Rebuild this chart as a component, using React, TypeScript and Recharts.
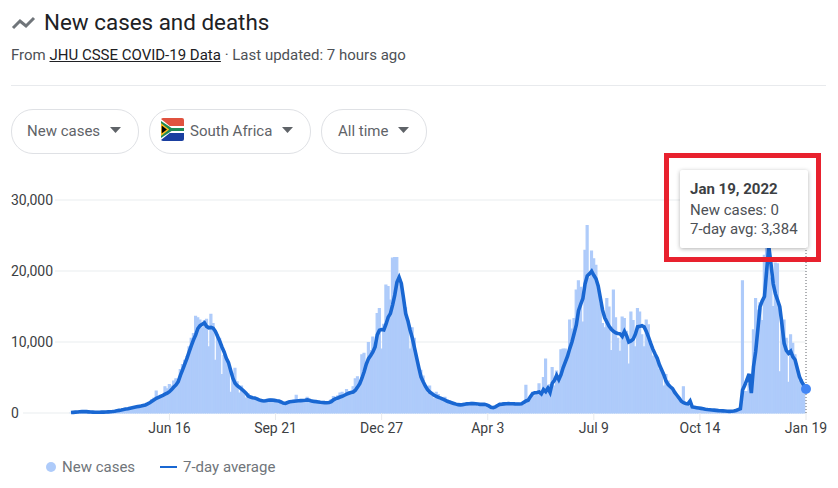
import { Bar, CartesianGrid, ComposedChart, Line, ReferenceDot, ReferenceLine, XAxis, YAxis } from "recharts"

// one reading every 2 days, starting Mar 18 2020
const newCases = [
  50, 70, 100, 130, 150, 180, 200, 170, 140, 120,
  110, 100, 100, 110, 110, 130, 130, 150, 170, 200,
  250, 300, 350, 400, 450, 520, 600, 650, 720, 800,
  900, 950, 1000, 1100, 1200, 1300, 1500, 1900, 2100, 3100,
  2300, 2500, 2600, 3700, 3400, 4000, 3800, 4500, 4800, 4700,
  6100, 6800, 7400, 7900, 9300, 10500, 11200, 13600, 13400, 13100,
  12000, 13000, 13200, 9300, 13900, 12600, 7400, 11000, 10500, 5400,
  8100, 7800, 6900, 2900, 5600, 6300, 4400, 2800, 3800, 3000,
  2100, 2700, 2300, 2200, 1900, 2100, 1700, 1500, 1400, 1900,
  1500, 2000, 1700, 1600, 1900, 1500, 1400, 1300, 1200, 1500,
  1700, 1500, 1800, 2500, 1700, 1600, 1900, 1700, 2200, 1700,
  1500, 1800, 1300, 1700, 1400, 1500, 1300, 1500, 1300, 1900,
  2300, 1900, 2400, 2800, 2900, 2600, 3300, 3000, 2700, 3700,
  4800, 5100, 4500, 8200, 8400, 7000, 9900, 8800, 10700, 9900,
  14000, 14700, 9000, 12500, 18000, 17800, 15900, 21800, 21900, 21900,
  18200, 18000, 16000, 14800, 13000, 9000, 12000, 10500, 7500, 6000,
  6000, 5200, 3700, 2800, 3800, 2900, 2000, 2900, 2600, 2000,
  1600, 2200, 1800, 1700, 1400, 1100, 1300, 1200, 1000, 1300,
  1200, 1400, 1100, 1500, 1300, 1200, 900, 1300, 1300, 1100,
  1200, 800, 700, 600, 900, 1100, 1200, 1300, 1200, 1400,
  1200, 1300, 1200, 1100, 1400, 1100, 1300, 1200, 3900, 1800,
  2200, 2900, 2400, 3000, 4100, 2400, 5000, 7600, 3000, 4000,
  6400, 3800, 5900, 4300, 8900, 9000, 9000, 8000, 13100, 11800,
  13300, 17300, 18600, 17700, 12800, 22900, 26400, 19000, 22800, 21700,
  20800, 17200, 15300, 12600, 12000, 16100, 14900, 8800, 17300, 13400,
  10500, 8700, 13500, 13300, 11500, 6900, 14200, 13000, 9300, 14700,
  14200, 11000, 9300, 13100, 12400, 10000, 8000, 7900, 7300, 6100,
  5800, 3800, 5400, 4500, 3700, 3200, 2900, 2400, 2000, 1700,
  3700, 1300, 1100, 1000, 900, 700, 650, 600, 550, 500,
  500, 450, 400, 400, 350, 350, 300, 300, 280, 250,
  220, 220, 230, 260, 330, 450, 600, 18600, 3000, 3000,
  4000, 3900, 11700, 16100, 14500, 15500, 13000, 22200, 27000, 26500,
  19000, 15000, 21100, 21000, 5800, 13000, 13100, 10500, 4300, 11000,
  9800, 8200, 6000, 4500, 4700, 4000, 0,
]

const sevenDayAvg = [
  60, 90, 120, 150, 170, 190, 200, 190, 160, 130,
  120, 110, 110, 110, 120, 130, 140, 160, 180, 210,
  260, 320, 370, 420, 480, 550, 610, 680, 750, 820,
  890, 930, 980, 1060, 1130, 1280, 1450, 1650, 1850, 2070,
  2210, 2350, 2490, 2650, 2800, 3000, 3300, 3650, 3950, 4400,
  5300, 6060, 6900, 7700, 8600, 9500, 10300, 11000, 11900, 12300,
  12500, 12700, 12200, 12000, 12050, 11950, 11500, 10800, 10100, 9300,
  8600, 7700, 7100, 6000, 4900, 4200, 3850, 3600, 3350, 3100,
  2800, 2400, 2250, 2150, 2100, 2000, 1850, 1750, 1700, 1720,
  1800, 1830, 1820, 1780, 1720, 1680, 1550, 1400, 1350, 1480,
  1580, 1620, 1660, 1700, 1720, 1740, 1760, 1800, 1850, 1800,
  1680, 1630, 1600, 1560, 1520, 1490, 1460, 1440, 1480, 1600,
  1850, 2020, 2120, 2250, 2350, 2500, 2650, 2780, 2880, 2960,
  3200, 3650, 4140, 4900, 5800, 6900, 7660, 8100, 8600, 9300,
  11000, 11650, 11750, 11700, 12500, 13500, 14000, 15200, 16600, 18400,
  19100, 18240, 16200, 14000, 13000, 11700, 10600, 9200, 7800, 6400,
  5080, 4400, 3800, 3300, 2950, 2730, 2500, 2350, 2200, 2100,
  1950, 1800, 1650, 1550, 1450, 1350, 1250, 1175, 1150, 1180,
  1240, 1290, 1310, 1320, 1320, 1300, 1260, 1220, 1220, 1230,
  1150, 1000, 800, 750, 870, 1050, 1220, 1250, 1290, 1300,
  1320, 1310, 1300, 1280, 1270, 1270, 1300, 1500, 1690, 1800,
  2300, 2730, 2850, 2900, 2960, 2700, 3300, 3000, 3500, 2900,
  4200, 4600, 5300, 4700, 5400, 6400, 7190, 8000, 9070, 10000,
  11200, 12400, 14400, 15300, 16120, 18200, 19300, 19600, 19970, 19400,
  18900, 17900, 16200, 14480, 13400, 12800, 12200, 11800, 11500, 11300,
  11200, 11150, 10800, 11500, 10900, 10000, 10150, 10400, 11100, 12130,
  12200, 12300, 12130, 11500, 10700, 9800, 9000, 8300, 7700, 6800,
  6100, 5400, 4500, 4000, 3700, 3430, 2900, 2500, 2100, 1650,
  1450, 1350, 1300, 1700, 850, 800, 750, 700, 650, 600,
  540, 490, 460, 430, 400, 370, 340, 320, 300, 280,
  250, 235, 240, 280, 350, 480, 600, 3240, 3900, 4700,
  5500, 2800, 6500, 8700, 11800, 14990, 15800, 16400, 20000, 23450,
  21000, 18200, 16800, 15900, 14990, 12500, 9820, 8800, 8400, 8700,
  7900, 7500, 6300, 5120, 4400, 3900, 3384,
]

const tickDays = [90, 187, 284, 381, 478, 575, 672]
const tickLabels = ["Jun 16", "Sep 21", "Dec 27", "Apr 3", "Jul 9", "Oct 14", "Jan 19"]
const yTicks = [0, 10000, 20000, 30000]

const chartData = newCases.map((v, i) => ({ day: i * 2, cases: v, avg: sevenDayAvg[i] }))

const FONT = "Roboto, sans-serif"

function YTick({ y, payload }: { y?: number; payload?: { value: number } }) {
  const v = payload?.value ?? 0
  return (
    <g>
      {/* the rest of the gridline comes from CartesianGrid, behind the bars */}
      <line x1={v === 0 ? 23 : 55} x2={71} y1={y} y2={y} stroke="#f1f3f4" strokeWidth={1.5} />
      <text x={11} y={(y ?? 0) + 5} fontSize={14} fontFamily={FONT} fill="#3c4043">
        {v.toLocaleString("en-US")}
      </text>
    </g>
  )
}

function HoverLine({ x1, y1, y2 }: { x1?: number; y1?: number; y2?: number }) {
  return <line x1={x1} x2={x1} y1={y1} y2={(y2 ?? 0) + 34} stroke="#5f6368" strokeWidth={1} strokeDasharray="1 2" />
}

function Pill({ left, width, textLeft, arrowLeft, label }: { left: number; width: number; textLeft: number; arrowLeft: number; label: string }) {
  return (
    <>
      <div style={{ position: "absolute", left, top: 109, width: width - 2, height: 43, border: "1px solid #dfe1e5", borderRadius: 22 }} />
      <div style={{ position: "absolute", left: textLeft, top: 122, fontSize: 15, lineHeight: "18px", color: "#5f6368", whiteSpace: "nowrap" }}>{label}</div>
      <svg style={{ position: "absolute", left: arrowLeft, top: 127 }} width={11} height={6}>
        <path d="M0 0 L11 0 L5.5 6 Z" fill="#5f6368" />
      </svg>
    </>
  )
}

export default function App() {
  return (
    <div style={{ position: "absolute", left: 0, top: 0, width: 838, height: 488, background: "#fff", fontFamily: FONT, overflow: "hidden" }}>
      <svg style={{ position: "absolute", left: 10, top: 15 }} width={28} height={18}>
        <path d="M3 13 L10 6 L16 11 L24 3" fill="none" stroke="#70757a" strokeWidth={3} />
      </svg>
      <div style={{ position: "absolute", left: 44, top: 8, fontSize: 22.4, lineHeight: "28px", color: "#202124", whiteSpace: "nowrap" }}>New cases and deaths</div>
      <div style={{ position: "absolute", left: 11, top: 46, fontSize: 15, lineHeight: "18px", color: "#4d5156", whiteSpace: "nowrap" }}>
        From <span style={{ color: "#202124", textDecoration: "underline" }}>JHU CSSE COVID-19 Data</span> · Last updated: 7 hours ago
      </div>
      <div style={{ position: "absolute", left: 11, top: 85, width: 815, height: 1, background: "#e8eaed" }} />

      <Pill left={11} width={128} textLeft={27} arrowLeft={110} label="New cases" />
      <Pill left={149} width={162} textLeft={190} arrowLeft={282} label="South Africa" />
      <Pill left={321} width={106} textLeft={338} arrowLeft={398} label="All time" />
      <svg style={{ position: "absolute", left: 161, top: 118, borderRadius: 2 }} width={23} height={23} viewBox="0 0 23 23">
        <rect width={23} height={8} fill="#e0523f" />
        <rect y={15} width={23} height={8} fill="#1a3fa0" />
        <rect y={8} width={23} height={7} fill="#fff" />
        <path d="M0 1 L10 9 L23 9 L23 14 L10 14 L0 22 Z" fill="#fff" />
        <path d="M0 3 L10.6 10 L23 10 L23 13 L10.6 13 L0 20 Z" fill="#1f8a55" />
        <path d="M0 6 L7 11.5 L0 17 Z" fill="#000" stroke="#ffb81c" strokeWidth={1.5} />
      </svg>

      <ComposedChart
        width={838}
        height={488}
        data={chartData}
        margin={{ top: 200, right: 32, bottom: 45, left: 11 }}
        style={{ position: "absolute", left: 0, top: 0 }}
      >
        <CartesianGrid vertical={false} horizontalValues={yTicks} stroke="#f1f3f4" strokeWidth={1.5} />
        <YAxis
          type="number"
          domain={[0, 30000]}
          ticks={yTicks}
          width={60}
          axisLine={false}
          tickLine={false}
          tick={<YTick />}
        />
        <XAxis
          dataKey="day"
          type="number"
          domain={[0, 672]}
          ticks={tickDays}
          height={30}
          axisLine={false}
          tickSize={7}
          tickLine={{ stroke: "#e8eaed" }}
          tickMargin={3}
          interval={0}
          tick={{ fontSize: 14, fontFamily: FONT, fill: "#3c4043" }}
          tickFormatter={(d: number) => tickLabels[tickDays.indexOf(d)]}
        />
        {/* the stroke closes the hairline gaps between the thin bars */}
        <Bar dataKey="cases" fill="#aecbfa" stroke="#aecbfa" strokeWidth={1.2} barSize={3} isAnimationActive={false} />
        <ReferenceLine x={672} shape={<HoverLine />} />
        <Line
          dataKey="avg"
          type="linear"
          stroke="#1967d2"
          strokeWidth={3.6}
          dot={false}
          isAnimationActive={false}
        />
        <ReferenceDot x={672} y={3384} r={5} fill="#4285f4" stroke="none" />
      </ComposedChart>

      <div style={{ position: "absolute", left: 46, top: 462, width: 10, height: 10, borderRadius: 5, background: "#aecbfa" }} />
      <div style={{ position: "absolute", left: 62, top: 458, fontSize: 15, lineHeight: "18px", color: "#70757a" }}>New cases</div>
      <div style={{ position: "absolute", left: 160, top: 466, width: 17, height: 2, background: "#1967d2" }} />
      <div style={{ position: "absolute", left: 183, top: 458, fontSize: 15, lineHeight: "18px", color: "#70757a" }}>7-day average</div>

      <div style={{ position: "absolute", left: 680, top: 170, width: 128, height: 78, background: "#fff", borderRadius: 2, boxShadow: "0 1px 4px rgba(0,0,0,0.3)" }}>
        <div style={{ position: "absolute", left: 10, top: 10, fontSize: 15, lineHeight: "18px", fontWeight: 700, color: "#3c4043", whiteSpace: "nowrap" }}>Jan 19, 2022</div>
        <div style={{ position: "absolute", left: 10, top: 31, fontSize: 15, lineHeight: "18px", color: "#4d5156", whiteSpace: "nowrap" }}>New cases: 0</div>
        <div style={{ position: "absolute", left: 10, top: 50, fontSize: 15, lineHeight: "18px", color: "#4d5156", whiteSpace: "nowrap" }}>7-day avg: 3,384</div>
      </div>
      <div style={{ position: "absolute", left: 664, top: 153, width: 147, height: 99, border: "5px solid #e8212e" }} />
    </div>
  )
}
